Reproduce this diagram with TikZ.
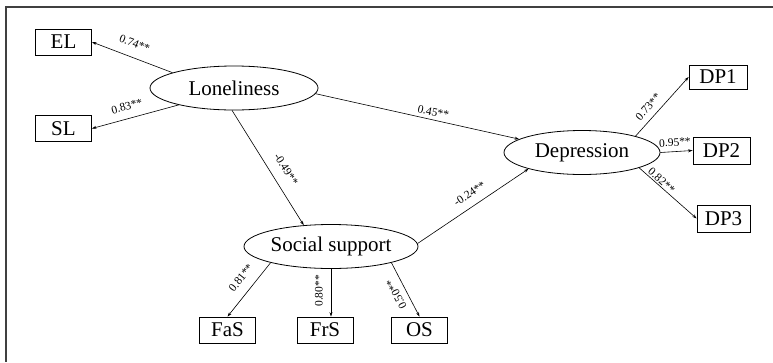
\documentclass[tikz,border=0pt]{standalone}
\usepackage{fontspec}
\setmainfont{Liberation Serif}
\usetikzlibrary{shapes.geometric, arrows.meta}

\begin{document}
\begin{tikzpicture}[x=1pt, y=-1pt,
    latent/.style={ellipse, draw, line width=0.8pt, minimum height=44pt, inner sep=0pt, font=\fontsize{21}{24}\selectfont},
    obs/.style={rectangle, draw, line width=0.8pt, minimum width=56pt, minimum height=26pt, inner sep=0pt, font=\fontsize{21}{24}\selectfont},
    arr/.style={-{Stealth[length=4.5pt, width=3pt]}, line width=0.6pt},
    rarr/.style={{Stealth[length=4.5pt, width=3pt]}-, line width=0.6pt},
    coef/.style={sloped, font=\fontsize{11.5}{13}\selectfont, inner sep=0pt}
]
    \useasboundingbox (0,0) rectangle (773,362);
    \draw[line width=1.2pt, black!75] (773,7) -- (6,7) -- (6,362);

    \node[latent, minimum width=168pt] (lon) at (234,88) {Loneliness};
    \node[latent, minimum width=174pt] (ss) at (331,246.5) {Social support};
    \node[latent, minimum width=156pt] (dep) at (582,152.5) {Depression};

    \node[obs] (el) at (63.5,42) {EL};
    \node[obs] (sl) at (63.5,128.5) {SL};
    \node[obs, minimum width=58pt, minimum height=24pt] (dp1) at (718,77) {DP1};
    \node[obs, minimum width=57pt, minimum height=27pt] (dp2) at (721.5,150.5) {DP2};
    \node[obs, minimum width=53pt, minimum height=27pt] (dp3) at (723.5,218.5) {DP3};
    \node[obs] (fas) at (227.5,330) {FaS};
    \node[obs] (frs) at (325,330) {FrS};
    \node[obs] (os) at (419.5,330) {OS};

    \path
        (lon.166) edge[arr] node[coef, pos=0.53, above=9.5pt]{0.74**} (el.east)
        (lon.197) edge[arr] node[coef, pos=0.56, above=8pt]{0.83**} (sl.east)
        (lon.356) edge[arr] node[coef, pos=0.57, above=3.5pt]{0.45**} (dep.168)
        (lon.265) edge[arr] node[coef, pos=0.58, above=10.5pt]{-0.49**} (ss.142)
        (ss.2) edge[arr] node[coef, pos=0.53, above=8pt]{-0.24**} (dep.197)
        (dep.17) edge[arr] node[coef, pos=0.38, above=6pt]{0.73**} (dp1.west)
        (dep.0) edge[arr] node[coef, pos=0.47, above=5pt]{0.95**} (dp2.west)
        (dep.345) edge[arr] node[coef, pos=0.33, above=1pt]{0.82**} (dp3.west)
        (ss.195) edge[arr] node[coef, pos=0.44, above=9.5pt]{0.81**} (fas.north)
        (ss.south |- frs.north) edge[rarr] node[coef, pos=0.54, above=8pt]{0.80**} (ss.south)
        (os.north) edge[rarr] node[coef, allow upside down, pos=0.5, above=6pt]{0.50**} (ss.345)
        ;
\end{tikzpicture}
\end{document}
